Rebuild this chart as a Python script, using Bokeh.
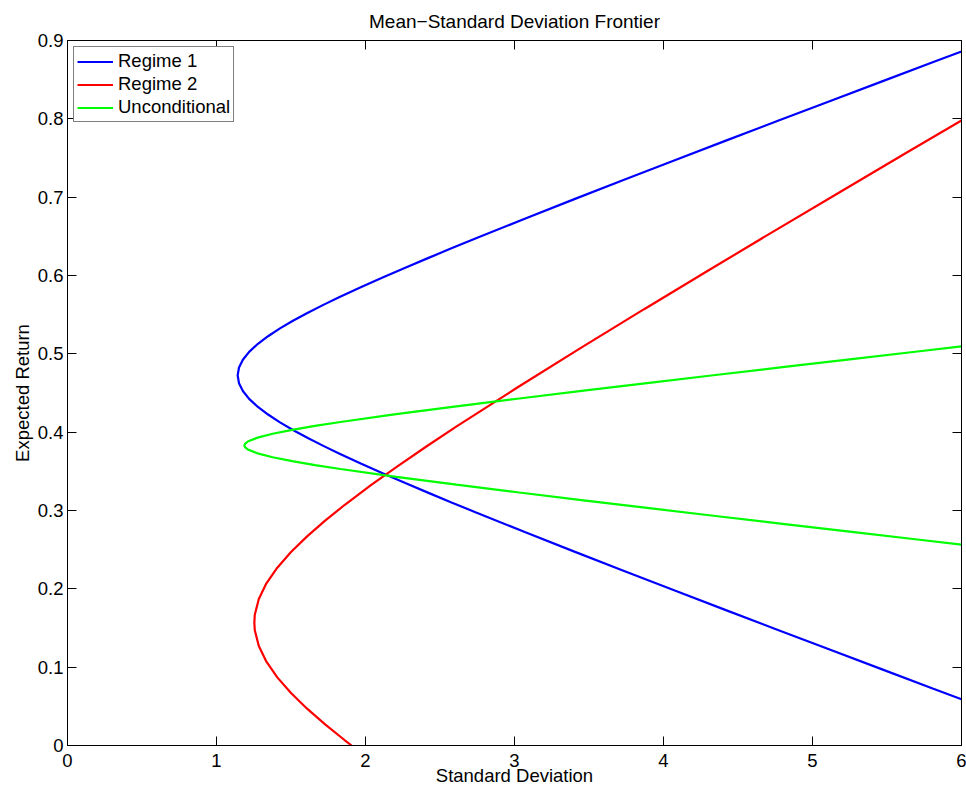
from bokeh.plotting import figure
from bokeh.models import (LinearAxis, Range1d, Legend, LegendItem, FixedTicker,
                          NumeralTickFormatter, CustomLabelingPolicy)
from bokeh.embed import file_html
from bokeh.resources import INLINE

# ---- data ----
blue_mu = [0.059, 0.0725, 0.0975, 0.1225, 0.1475, 0.1725, 0.1975, 0.2225, 0.2475, 0.2725,
           0.2975, 0.31, 0.3225, 0.335, 0.3475, 0.36, 0.3725, 0.3825, 0.3925, 0.4025,
           0.4125, 0.4225, 0.4325, 0.4425, 0.4525, 0.4625, 0.4725, 0.4825, 0.4925, 0.5025,
           0.5125, 0.5225, 0.5325, 0.5425, 0.5525, 0.5625, 0.5725, 0.585, 0.5975, 0.61,
           0.6225, 0.635, 0.6475, 0.6725, 0.6975, 0.7225, 0.7475, 0.7725, 0.7975, 0.8225,
           0.8475, 0.8725, 0.886]
blue_sigma = [6.0, 5.811, 5.463, 5.115, 4.768, 4.423, 4.080, 3.740, 3.402, 3.069,
              2.742, 2.581, 2.423, 2.267, 2.115, 1.968, 1.826, 1.717, 1.613, 1.516,
              1.426, 1.346, 1.276, 1.219, 1.177, 1.151, 1.142, 1.151, 1.177, 1.219,
              1.276, 1.346, 1.426, 1.516, 1.613, 1.717, 1.826, 1.968, 2.115, 2.267,
              2.423, 2.581, 2.742, 3.069, 3.402, 3.740, 4.080, 4.423, 4.768, 5.115,
              5.463, 5.811, 6.0]

red_mu = [0.0, 0.007, 0.027, 0.047, 0.067, 0.087, 0.107, 0.127, 0.147, 0.157,
          0.167, 0.187, 0.207, 0.227, 0.247, 0.267, 0.287, 0.307, 0.332, 0.357,
          0.382, 0.407, 0.457, 0.507, 0.557, 0.607, 0.657, 0.707, 0.757, 0.798]
red_sigma = [1.907, 1.859, 1.729, 1.608, 1.500, 1.408, 1.335, 1.284, 1.257, 1.254,
             1.257, 1.284, 1.335, 1.408, 1.500, 1.608, 1.729, 1.859, 2.034, 2.219,
             2.411, 2.609, 3.019, 3.440, 3.870, 4.306, 4.745, 5.188, 5.633, 6.0]

green_mu = [0.2565, 0.263, 0.273, 0.283, 0.293, 0.303, 0.313, 0.323, 0.333, 0.343,
            0.353, 0.358, 0.363, 0.368, 0.373, 0.378, 0.3805, 0.383, 0.3855, 0.388,
            0.393, 0.398, 0.403, 0.408, 0.413, 0.423, 0.433, 0.443, 0.453, 0.463,
            0.473, 0.483, 0.493, 0.503, 0.5095]
green_sigma = [6.0, 5.704, 5.250, 4.798, 4.349, 3.904, 3.464, 3.032, 2.610, 2.206,
               1.832, 1.661, 1.508, 1.377, 1.275, 1.210, 1.193, 1.187, 1.193, 1.210,
               1.275, 1.377, 1.508, 1.661, 1.832, 2.206, 2.610, 3.032, 3.464, 3.904,
               4.349, 4.798, 5.250, 5.704, 6.0]

series_names = ["Regime 1", "Regime 2", "Unconditional"]
x_ticks = [0, 1, 2, 3, 4, 5, 6]
y_ticks = [0, 0.1, 0.2, 0.3, 0.4, 0.5, 0.6, 0.7, 0.8, 0.9]

FONT = "Liberation Sans"
FS = "18.5px"

p = figure(width=966, height=791,
           x_range=Range1d(0, 6), y_range=Range1d(0, 0.9),
           output_backend="svg", toolbar_location=None,
           min_border_left=67, min_border_top=40, min_border_bottom=46, min_border_right=5,
           x_axis_label="Standard Deviation", y_axis_label="Expected Return",
           title="Mean\u2212Standard Deviation Frontier",
           background_fill_color="white", border_fill_color="white")

p.title.text_font = FONT
p.title.text_font_size = "19px"
p.title.text_font_style = "normal"
p.title.align = "center"
p.title.text_color = "black"
p.title.standoff = 17

p.xgrid.grid_line_color = None
p.ygrid.grid_line_color = None
p.outline_line_color = "black"
p.outline_line_width = 1
p.outline_line_alpha = 1

no_labels = CustomLabelingPolicy(code="""
for (const i of indices) { indices.unset(i) }
""")


def style(ax, ticks, labels=True):
    ax.ticker = FixedTicker(ticks=ticks)
    ax.axis_line_color = "black"
    ax.axis_line_width = 1
    ax.major_tick_in = 9
    ax.major_tick_out = 0
    ax.major_tick_line_color = "black"
    ax.minor_tick_line_color = None
    ax.major_label_text_font = FONT
    ax.major_label_text_color = "black"
    ax.axis_label_text_font = FONT
    ax.axis_label_text_font_size = FS
    ax.axis_label_text_font_style = "normal"
    ax.axis_label_text_color = "black"
    if labels:
        ax.major_label_text_font_size = FS
        ax.major_label_standoff = 4
    else:
        ax.major_label_text_font_size = "0px"
        ax.major_label_policy = no_labels
        ax.major_label_standoff = 0


xa = p.xaxis[0]
ya = p.yaxis[0]
style(xa, x_ticks)
style(ya, y_ticks)
ya.formatter = NumeralTickFormatter(format="0.[0]")
xa.major_label_standoff = 8
xa.axis_label_standoff = -5
ya.axis_label_standoff = 2

top = LinearAxis()
style(top, x_ticks, labels=False)
p.add_layout(top, "above")
right = LinearAxis()
style(right, y_ticks, labels=False)
p.add_layout(right, "right")

r1 = p.line(blue_sigma, blue_mu, line_color="#0000FF", line_width=2.2)
r2 = p.line(red_sigma, red_mu, line_color="#FF0000", line_width=2.2)
r3 = p.line(green_sigma, green_mu, line_color="#00FF00", line_width=2.2)

legend = Legend(items=[LegendItem(label=series_names[0], renderers=[r1]),
                       LegendItem(label=series_names[1], renderers=[r2]),
                       LegendItem(label=series_names[2], renderers=[r3])],
                location="top_left", margin=6, padding=3, spacing=1,
                label_height=21, glyph_height=21, glyph_width=36, label_standoff=5,
                border_line_color="black", border_line_width=1,
                label_text_font=FONT, label_text_font_size=FS, label_text_color="black",
                background_fill_color="white", background_fill_alpha=1)
p.add_layout(legend)

open("out.html", "w").write(file_html(p, INLINE))
